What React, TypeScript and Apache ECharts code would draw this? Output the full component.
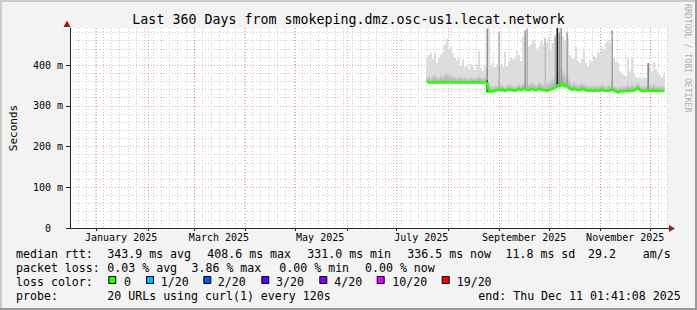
import React, { useEffect, useRef } from "react";
import * as echarts from "echarts";

const TITLE = "Last 360 Days from smokeping.dmz.osc-us1.lecat.network";
const RANGE_DAYS = 360;
const Y_MAX = 491; // milliseconds

// day offsets from graph start (Dec 16 2024 01:41)
const monthStartDays = [15.93, 46.93, 74.93, 105.93, 135.93, 166.93, 196.93, 227.93, 258.93, 288.93, 319.93, 349.93];
const monthLabelDays = [30.83, 89.83, 150.83, 211.83, 273.83, 334.83];
const monthLabels = ["January 2025", "March 2025", "May 2025", "July 2025", "September 2025", "November 2025"];
const minorGridFirstDay = 4.93;
const minorGridStepDays = 5;

const yMajorTicks = [0, 100, 200, 300, 400];
const yMinorTicks = [20, 40, 60, 80, 120, 140, 160, 180, 220, 240, 260, 280, 320, 340, 360, 380, 420, 440, 460, 480];

// RRD buckets (regular sampling)
const dataStartDay = 215.4;
const bucketDays = 1.2;

const median = [
  357, 357, 357, 358, 357, 357, 357, 357, 357, 358,
  357, 357, 357, 357, 357, 357, 357, 357, 357, 357,
  357, 357, 357, 357, 357, 357, 358, 357, 357, 357,
  357, 334, 336, 335, 337, 338, 340, 338, 339, 337,
  338, 340, 339, 338, 337, 339, 341, 338, 340, 343,
  339, 338, 340, 341, 339, 338, 342, 340, 339, 338,
  337, 339, 340, 341, 344, 346, 352, 348, 355, 347,
  350, 344, 341, 339, 342, 340, 338, 339, 341, 340,
  338, 337, 338, 336, 337, 338, 337, 338, 339, 337,
  336, 337, 338, 341, 337, 336, 332, 336, 335, 336,
  337, 337, 336, 337, 338, 340, 344, 338, 337, 336,
  337, 337, 336, 337, 338, 336, 337, 336, 337, 336,
];

const smokeMid = [
  372, 375, 370, 374, 378, 372, 370, 376, 374, 380,
  382, 378, 376, 374, 372, 370, 373, 371, 369, 372,
  370, 368, 371, 370, 369, 372, 375, 370, 369, 371,
  372, 360, 350, 348, 352, 350, 365, 352, 350, 349,
  351, 355, 353, 350, 349, 352, 356, 351, 360, 368,
  362, 355, 358, 360, 354, 352, 362, 358, 355, 353,
  356, 360, 365, 368, 375, 395, 400, 390, 392, 380,
  385, 372, 362, 356, 360, 355, 352, 354, 356, 355,
  352, 350, 351, 349, 350, 352, 350, 352, 354, 350,
  349, 351, 352, 365, 350, 348, 345, 349, 348, 349,
  350, 356, 349, 355, 350, 354, 358, 351, 349, 348,
  350, 360, 352, 350, 356, 349, 350, 349, 350, 348,
];

const smokeMax = [
  418, 425, 430, 415, 428, 405, 418, 425, 432, 450,
  465, 440, 445, 430, 420, 410, 418, 400, 415, 395,
  398, 390, 402, 395, 388, 400, 434, 392, 385, 398,
  395, 490, 400, 405, 395, 402, 482, 400, 395, 433,
  398, 410, 420, 415, 418, 435, 425, 410, 470, 485,
  490, 445, 450, 462, 455, 440, 445, 460, 450, 465,
  455, 470, 440, 455, 475, 490, 490, 490, 470, 460,
  480, 470, 425, 415, 420, 445, 410, 405, 415, 435,
  405, 398, 412, 408, 422, 418, 432, 428, 445, 440,
  455, 462, 455, 485, 420, 408, 405, 385, 380, 375,
  372, 420, 385, 420, 378, 370, 368, 372, 365, 370,
  368, 405, 395, 385, 408, 390, 382, 375, 370, 378,
];

// dense (dark) smoke columns
const spikeBucket = [30, 30, 36, 49, 50, 59, 64, 65, 66, 67, 70, 93, 111];
const spikeLow = [340, 333, 340, 340, 340, 340, 345, 345, 345, 350, 350, 340, 340];
const spikeHigh = [490, 362, 482, 485, 490, 465, 470, 491, 480, 491, 480, 485, 405];
const spikeDensity = [0.35, 0.95, 0.18, 0.3, 0.18, 0.12, 0.18, 0.92, 0.35, 0.3, 0.25, 0.25, 0.4];

const legendRow1 = [
  [16, "median rtt:"], [107.3, "343.9 ms avg"], [207.3, "408.6 ms max"], [307.3, "331.0 ms min"],
  [407.3, "336.5 ms now"], [505.5, "11.8 ms sd"], [588, "29.2"], [642.7, "am/s"],
];
const legendRow2 = [
  [16, "packet loss:"], [107.3, "0.03 % avg"], [191.5, "3.86 % max"], [279.3, "0.00 % min"], [365, "0.00 % now"],
];
const lossLabels = ["0", "1/20", "2/20", "3/20", "4/20", "10/20", "19/20"];
const lossColors = ["#26ff00", "#00b8ff", "#0059ff", "#5e00ff", "#7e00ff", "#dd00ff", "#ff0000"];
const lossBoxX = [108.3, 146, 203.3, 261.3, 319.3, 376.7, 441.7];
const lossTextX = [124, 160.7, 217.7, 276, 334.3, 392.3, 456.7];
const legendRow4 = [
  [16, "probe:"], [107.3, "20 URLs using curl(1) every 120s"], [478.3, "end: Thu Dec 11 01:41:08 2025"],
];

const MONO = "DejaVu Sans Mono";
const GL = 67, GT = 28, GW = 600, GH = 200;

export default function App() {
  const ref = useRef<HTMLDivElement>(null);
  useEffect(() => {
    const chart = echarts.init(ref.current!, null, { renderer: "svg", width: 697, height: 310 });

    const minorXDays: number[] = [];
    for (let d = minorGridFirstDay; d <= RANGE_DAYS; d += minorGridStepDays) minorXDays.push(d);

    const buckets = median.map((m, i) => [dataStartDay + i * bucketDays, m, smokeMid[i], smokeMax[i]]);
    const spikes = spikeBucket.map((b, i) => [dataStartDay + b * bucketDays, spikeLow[i], spikeHigh[i], spikeDensity[i]]);

    const legendText = (x: number, y: number, t: string) => ({
      type: "text", x, y, silent: true,
      style: { text: t, fill: "#000", font: `11.6px '${MONO}'`, textAlign: "left", textVerticalAlign: "middle" },
    });

    const graphics: any[] = [];
    // frame
    graphics.push({ type: "rect", shape: { x: 0, y: 0, width: 697, height: 2 }, style: { fill: "#cbcbcb" } });
    graphics.push({ type: "rect", shape: { x: 0, y: 0, width: 2, height: 310 }, style: { fill: "#cbcbcb" } });
    graphics.push({ type: "rect", shape: { x: 0, y: 308, width: 697, height: 2 }, style: { fill: "#999999" } });
    graphics.push({ type: "rect", shape: { x: 695, y: 0, width: 2, height: 310 }, style: { fill: "#999999" } });
    // title
    graphics.push({
      type: "text", x: 348.5, y: 19,
      style: { text: TITLE, fill: "#000", font: `13.3px '${MONO}'`, textAlign: "center", textVerticalAlign: "middle" },
    });
    // watermark
    graphics.push({
      type: "text", x: 688, y: 4, rotation: -Math.PI / 2,
      style: { text: "RRDTOOL / TOBI OETIKER", fill: "#b0b0b0", font: `8.2px '${MONO}'`, textAlign: "left", textVerticalAlign: "middle" },
    });
    // arrows
    graphics.push({ type: "polygon", shape: { points: [[GL, 20.5], [GL - 3.5, 27], [GL + 3.5, 27]] }, style: { fill: "#9b1c1c" } });
    graphics.push({ type: "line", shape: { x1: GL + GW, y1: GT + GH + 0.5, x2: GL + GW + 3, y2: GT + GH + 0.5 }, style: { stroke: "#222", lineWidth: 1 } });
    graphics.push({ type: "polygon", shape: { points: [[GL + GW + 8, GT + GH + 0.5], [GL + GW + 2, GT + GH - 3], [GL + GW + 2, GT + GH + 4]] }, style: { fill: "#9b1c1c" } });
    // legend
    legendRow1.forEach(([x, t]) => graphics.push(legendText(x as number, 253.7, t as string)));
    legendRow2.forEach(([x, t]) => graphics.push(legendText(x as number, 267.8, t as string)));
    graphics.push(legendText(16, 281.9, "loss color:"));
    lossLabels.forEach((t, i) => {
      graphics.push({
        type: "rect", shape: { x: lossBoxX[i] + 0.5, y: 276.5, width: 7, height: 7 },
        style: { fill: lossColors[i], stroke: "#000", lineWidth: 1 },
      });
      graphics.push(legendText(lossTextX[i], 281.9, t));
    });
    legendRow4.forEach(([x, t]) => graphics.push(legendText(x as number, 296, t as string)));

    const minorLine = { color: "#cccccc", type: [1, 2] as any, width: 1 };
    const majorLine = { color: "rgba(222,48,48,0.45)", type: [1, 2] as any, width: 1 };

    const option: any = {
      animation: false,
      backgroundColor: "#f3f3f3",
      grid: { left: GL, top: GT, width: GW, height: GH, show: true, backgroundColor: "#ffffff", borderWidth: 0 },
      xAxis: [
        {
          type: "value", min: 0, max: RANGE_DAYS, position: "top",
          axisLine: { show: false }, axisTick: { show: false, customValues: minorXDays },
          axisLabel: { show: false }, splitLine: { show: true, lineStyle: minorLine },
        },
        {
          type: "value", min: 0, max: RANGE_DAYS, position: "bottom",
          axisLine: { show: true, lineStyle: { color: "#222", width: 1 } },
          axisTick: { show: true, customValues: monthStartDays, length: 3, lineStyle: { color: "#222" } },
          axisLabel: {
            show: true, customValues: monthLabelDays, margin: 4,
            fontFamily: MONO, fontSize: 10, color: "#000",
            formatter: (v: number) => {
              const i = monthLabelDays.findIndex((d) => Math.abs(d - v) < 0.01);
              return i >= 0 ? monthLabels[i] : "";
            },
          },
          splitLine: { show: true, lineStyle: majorLine },
        },
      ],
      yAxis: [
        {
          type: "value", min: 0, max: Y_MAX, position: "right",
          axisLine: { show: false }, axisTick: { show: false, customValues: yMinorTicks },
          axisLabel: { show: false }, splitLine: { show: true, lineStyle: minorLine },
        },
        {
          type: "value", min: 0, max: Y_MAX, position: "left",
          name: "Seconds", nameLocation: "middle", nameGap: 51, nameRotate: 90,
          nameTextStyle: { fontFamily: MONO, fontSize: 11, color: "#000" },
          axisLine: { show: true, lineStyle: { color: "#222", width: 1 } },
          axisTick: { show: true, customValues: yMajorTicks, length: 4, lineStyle: { color: "#222" } },
          axisLabel: {
            customValues: yMajorTicks, margin: 7, fontFamily: MONO, fontSize: 10, color: "#000",
            formatter: (v: number) => (v === 0 ? "{z|0}" : `${v} m`),
            rich: { z: { fontFamily: MONO, fontSize: 10, color: "#000", padding: [0, 12, 0, 0] } },
          },
          splitLine: { show: true, lineStyle: majorLine },
        },
      ],
      series: [
        {
          type: "custom", xAxisIndex: 1, yAxisIndex: 1, clip: true, z: 2,
          data: buckets,
          renderItem: (_p: any, api: any) => {
            const d = api.value(0), m = api.value(1), mid = api.value(2), mx = api.value(3);
            const x0 = Math.round(api.coord([d - bucketDays / 2, m])[0]);
            const x1 = Math.round(api.coord([d + bucketDays / 2, m])[0]);
            const yM = api.coord([d, m])[1];
            const yMid = api.coord([d, mid])[1];
            const yMax = api.coord([d, mx])[1];
            return {
              type: "group",
              children: [
                { type: "rect", shape: { x: x0, y: yMax, width: x1 - x0, height: yM - yMax }, style: { fill: "#dddddd" } },
                {
                  type: "rect", shape: { x: x0, y: yMid, width: x1 - x0, height: yM - yMid },
                  style: {
                    fill: new echarts.graphic.LinearGradient(0, 0, 0, 1, [
                      { offset: 0, color: "#d6d6d6" },
                      { offset: 1, color: "#a9a9a9" },
                    ]),
                  },
                },
              ],
            };
          },
        },
        {
          type: "custom", xAxisIndex: 1, yAxisIndex: 1, clip: true, z: 3,
          data: spikes,
          renderItem: (_p: any, api: any) => {
            const d = api.value(0), lo = api.value(1), hi = api.value(2), dens = api.value(3);
            const p0 = api.coord([d, lo]);
            const p1 = api.coord([d, hi]);
            const g = Math.round(215 - 205 * dens);
            return {
              type: "rect",
              shape: { x: Math.round(p0[0]) - 0.5, y: p1[1], width: 1.5, height: p0[1] - p1[1] },
              style: { fill: `rgb(${g},${g},${g})` },
            };
          },
        },
        {
          type: "line", xAxisIndex: 1, yAxisIndex: 1, z: 4,
          data: buckets.map((b) => [b[0], b[1]]),
          symbol: "none", lineStyle: { color: "#26ff00", width: 2.5 },
        },
      ],
      graphic: graphics,
    };

    chart.setOption(option);
    return () => chart.dispose();
  }, []);

  return <div ref={ref} style={{ position: "fixed", left: 0, top: 0, width: 697, height: 310 }} />;
}
